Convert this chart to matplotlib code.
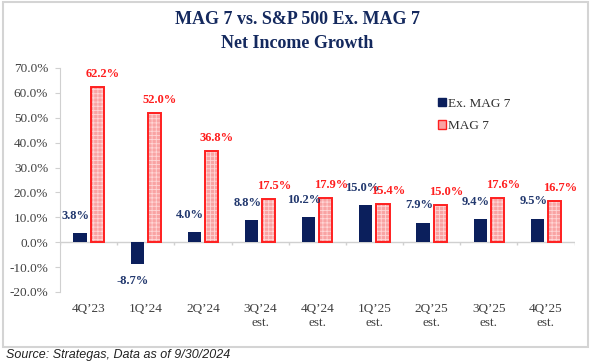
import numpy as np
import matplotlib
matplotlib.use("Agg")
from matplotlib import pyplot as plt
from matplotlib.patches import Rectangle, Patch

quarters = ["4Q’23", "1Q’24", "2Q’24", "3Q’24\nest.", "4Q’24\nest.",
            "1Q’25\nest.", "2Q’25\nest.", "3Q’25\nest.", "4Q’25\nest."]
ex_mag7 = [3.8, -8.7, 4.0, 8.8, 10.2, 15.0, 7.9, 9.4, 9.5]
mag7 = [62.2, 52.0, 36.8, 17.5, 17.9, 15.4, 15.0, 17.6, 16.7]
yticks = [-20, -10, 0, 10, 20, 30, 40, 50, 60, 70]

navy = "#0b1f5c"
navy_txt = "#22386e"
red = "#ff1f1f"
pink = "#f9a3a3"
serif = "Liberation Serif"

plt.rcParams["hatch.linewidth"] = 0.6

fig = plt.figure(figsize=(5.91, 3.64), dpi=100)
ax = fig.add_axes([60 / 591, 1 - 292 / 364, 514.5 / 591, 224 / 364])

x = np.arange(len(quarters))
w = 0.23
off = 0.15

ax.bar(x - off, ex_mag7, w, color=navy, zorder=3)
ax.bar(x + off, mag7, w, color=pink, edgecolor="#ffd6d6", hatch="++++",
       linewidth=0, zorder=3)
ax.bar(x + off, mag7, w, fill=False, edgecolor=red, linewidth=1.4, zorder=4)

for xi, v in zip(x, ex_mag7):
    dy = 8 if v >= 0 else -8
    ax.annotate(f"{v:.1f}%", (xi - off, v), xytext=(-3, dy),
                textcoords="offset points", ha="center",
                va="bottom" if v >= 0 else "top", fontsize=9,
                fontweight="bold", color=navy_txt, family=serif, zorder=5)
for xi, v in zip(x, mag7):
    ax.annotate(f"{v:.1f}%", (xi + off, v), xytext=(4, 5),
                textcoords="offset points", ha="center", va="bottom",
                fontsize=9, fontweight="bold", color=red, family=serif,
                zorder=5)

ax.set_xlim(-0.5, len(quarters) - 0.5)
ax.set_ylim(-20, 70)
ax.set_yticks(yticks)
ax.set_yticklabels([f"{t:.1f}%" for t in yticks], family=serif,
                   fontsize=9.5, color="#404040")
ax.set_xticks(x)
ax.set_xticklabels(quarters, family=serif, fontsize=9.5, color="#404040")
ax.tick_params(axis="x", length=0, pad=8)
ax.tick_params(axis="y", length=3.5, color="#d0d0d0", pad=5)

for s in ["top", "right", "bottom"]:
    ax.spines[s].set_visible(False)
ax.spines["left"].set_color("#d0d0d0")

# zero line with category-boundary ticks
ax.axhline(0, color="#d0d0d0", lw=1, zorder=2)
ax.vlines(np.arange(len(quarters) + 1) - 0.5, -1.2, 0, color="#d0d0d0",
          lw=1, zorder=2)

handles = [Patch(facecolor=navy, edgecolor=navy),
           Patch(facecolor=pink, edgecolor=red, linewidth=1)]
fig.legend(handles, ["Ex. MAG 7", "MAG 7"], loc="center left",
           bbox_to_anchor=(426 / 591, 1 - 115 / 364), frameon=False,
           handlelength=0.6, handleheight=0.6, handletextpad=0.15,
           labelspacing=0.8, prop={"family": serif, "size": 9.5},
           labelcolor="#303030")

fig.text(0.503, 1 - 20 / 364, "MAG 7 vs. S&P 500 Ex. MAG 7", ha="center",
         va="center", fontsize=13, fontweight="bold", color="#14295e",
         family=serif)
fig.text(0.503, 1 - 43 / 364, "Net Income Growth", ha="center",
         va="center", fontsize=13, fontweight="bold", color="#14295e",
         family=serif)

fig.patches.append(Rectangle((3 / 591, 1 - 347 / 364), 585 / 591, 345 / 364,
                             transform=fig.transFigure, fill=False,
                             edgecolor="#d4d4d4", lw=1.5))

fig.text(6 / 591, 1 - 355 / 364, "Source: Strategas, Data as of 9/30/2024",
         ha="left", va="center", fontsize=9, fontstyle="italic",
         family="Liberation Sans", color="#222222")

fig.savefig("out.png", dpi=100)
